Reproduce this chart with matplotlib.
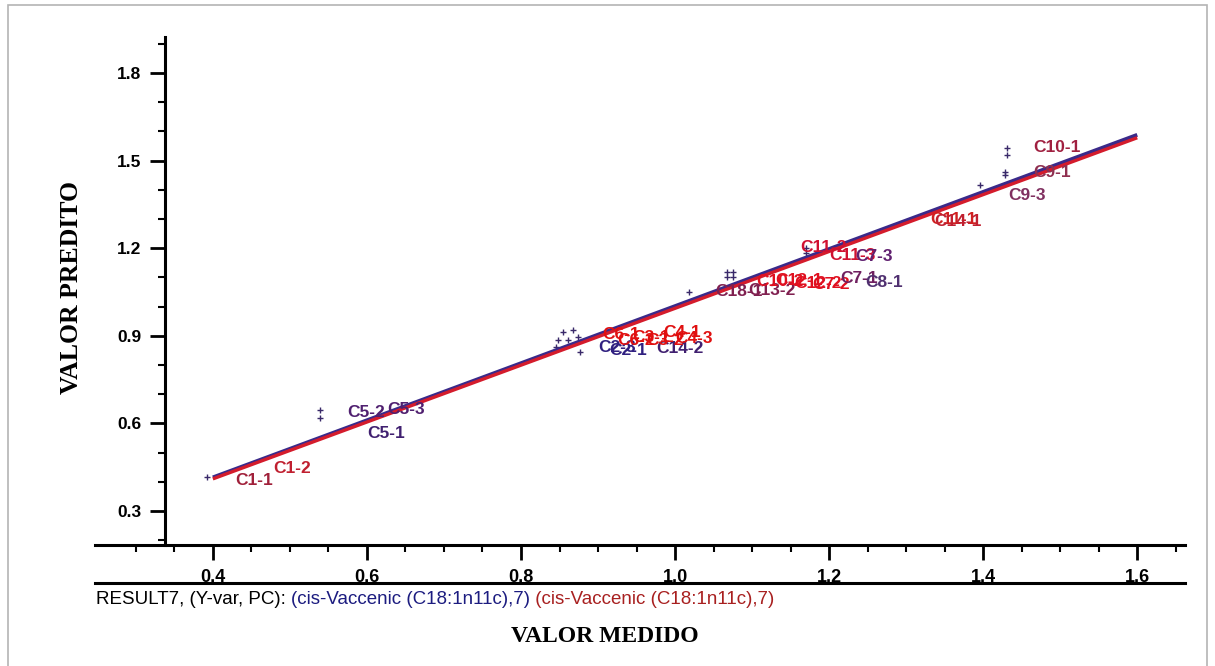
import numpy as np
import matplotlib
matplotlib.use("Agg")
from matplotlib import pyplot as plt
from matplotlib.lines import Line2D
from matplotlib.patches import Rectangle

# Pontos de calibracao (marcadores "+")
pts_x = [0.392, 0.539, 0.539, 0.848, 0.855, 0.861, 0.868, 0.874, 0.845, 0.877,
         1.018, 1.067, 1.075, 1.067, 1.075, 1.170, 1.170, 1.431, 1.431, 1.428,
         1.428, 1.396]
pts_y = [0.416, 0.646, 0.618, 0.886, 0.913, 0.886, 0.920, 0.896, 0.862, 0.845,
         1.050, 1.120, 1.120, 1.100, 1.100, 1.201, 1.185, 1.543, 1.519, 1.461,
         1.450, 1.416]

# Rotulos das amostras (texto, x, y, cor)
lab_txt = ["C1-1", "C1-2", "C5-2", "C5-3", "C5-1",
           "C2-3", "C2-1", "C14-2", "C6-1", "C6-2", "C3-1", "C3-2", "C4-1", "C4-3",
           "C18-1", "C13-2", "C10-2", "C12-1", "C12-2", "C7-2", "C11-2", "C11-3",
           "C7-3", "C7-1", "C8-1", "C11-1", "C14-1", "C9-3", "C9-1", "C10-1"]
lab_x = [0.429, 0.478, 0.574, 0.627, 0.600,
         0.900, 0.915, 0.975, 0.905, 0.925, 0.945, 0.962, 0.985, 1.000,
         1.052, 1.095, 1.105, 1.130, 1.155, 1.178, 1.162, 1.200,
         1.234, 1.215, 1.247, 1.331, 1.336, 1.432, 1.465, 1.465]
lab_y = [0.406, 0.447, 0.636, 0.646, 0.567,
         0.860, 0.851, 0.855, 0.905, 0.885, 0.895, 0.885, 0.910, 0.890,
         1.050, 1.055, 1.085, 1.090, 1.080, 1.075, 1.201, 1.175,
         1.173, 1.095, 1.084, 1.297, 1.290, 1.382, 1.458, 1.543]
lab_cor = ["#a0203a", "#c02030", "#502070", "#502070", "#402070",
           "#302080", "#302080", "#402070", "#e01010", "#e01010", "#e01010", "#e01010", "#e01010", "#e01010",
           "#802050", "#802050", "#e01020", "#e01020", "#e01020", "#e01020", "#d01030", "#d01030",
           "#602070", "#702060", "#503070", "#d02020", "#c02030", "#803060", "#903050", "#a02040"]

# Retas de regressao (medido -> predito)
reta_x = [0.40, 1.60]
reta_azul = [0.415, 1.588]
reta_verm = [0.410, 1.578]

W, H = 1215, 666
fig = plt.figure(figsize=(W / 100, H / 100), dpi=100)
fig.patch.set_facecolor("white")

# moldura cinza
fig.add_artist(Rectangle((8 / W, -0.01), (1207 - 8) / W, 1 - 5 / H + 0.01,
                         transform=fig.transFigure, fill=False, ec="#b4b4b4", lw=1.2))

ax = fig.add_axes([95 / W, (H - 545) / H, (1185 - 95) / W, (545 - 37) / H])
ax.set_xlim(0.247, 1.662)
ax.set_ylim(0.1836, 1.923)

for s in ["top", "right"]:
    ax.spines[s].set_visible(False)
ax.spines["left"].set_position(("data", 0.338))
ax.spines["left"].set_linewidth(2.2)
ax.spines["bottom"].set_linewidth(2.2)

ax.set_xticks([0.4, 0.6, 0.8, 1.0, 1.2, 1.4, 1.6])
ax.set_xticks(np.arange(0.30, 1.66, 0.05), minor=True)
ax.set_yticks([0.3, 0.6, 0.9, 1.2, 1.5, 1.8])
ax.set_yticks(np.arange(0.2, 1.91, 0.1), minor=True)
ax.set_xticklabels(["0.4", "0.6", "0.8", "1.0", "1.2", "1.4", "1.6"])
ax.set_yticklabels(["0.3", "0.6", "0.9", "1.2", "1.5", "1.8"])
ax.tick_params(which="major", length=11, width=2, direction="out", pad=6)
ax.tick_params(which="minor", length=5, width=1.5, direction="out")
for t in ax.get_xticklabels():
    t.set_family("Liberation Sans")
    t.set_fontweight("bold")
    t.set_fontsize(13)
for t in ax.get_yticklabels():
    t.set_family("Liberation Sans")
    t.set_fontweight("bold")
    t.set_fontsize(12.5)

# retas
ax.plot(reta_x, reta_azul, color="#3a2a8a", lw=2.8, solid_capstyle="butt")
ax.plot(reta_x, reta_verm, color="#d41c2c", lw=2.4, solid_capstyle="butt")

# pontos
ax.scatter(pts_x, pts_y, marker="+", s=14, color="#3a2a6a", linewidths=1.0)

# rotulos
for t, x, y, c in zip(lab_txt, lab_x, lab_y, lab_cor):
    ax.text(x, y, t, color=c, fontsize=12.5, fontweight="bold",
            family="Liberation Sans", va="center", ha="left")

# segunda linha horizontal sob os rotulos do eixo x
fig.add_artist(Line2D([95 / W, 1185 / W], [(H - 583) / H] * 2,
                      transform=fig.transFigure, color="black", lw=2.2))

# legenda
t1 = fig.text(96 / W, (H - 600) / H, "RESULT7, (Y-var, PC): ", color="black",
              fontsize=13.5, family="Liberation Sans", va="center", ha="left")
t2 = ax.annotate("(cis-Vaccenic (C18:1n11c),7)", xy=(1, 0), xycoords=t1,
                 color="#1c1c80", fontsize=13.5, family="Liberation Sans",
                 va="bottom", ha="left", annotation_clip=False)
t3 = ax.annotate(" (cis-Vaccenic (C18:1n11c),7)", xy=(1, 0), xycoords=t2,
                 color="#a82020", fontsize=13.5, family="Liberation Sans",
                 va="bottom", ha="left", annotation_clip=False)

fig.text(605 / W, (H - 637) / H, "VALOR MEDIDO", fontsize=17, fontweight="bold",
         family="Liberation Serif", ha="center", va="center")
fig.text(72 / W, (H - 288) / H, "VALOR PREDITO", fontsize=18.5, fontweight="bold",
         family="Liberation Serif", ha="center", va="center", rotation=90)

fig.savefig("out.png", dpi=100)
